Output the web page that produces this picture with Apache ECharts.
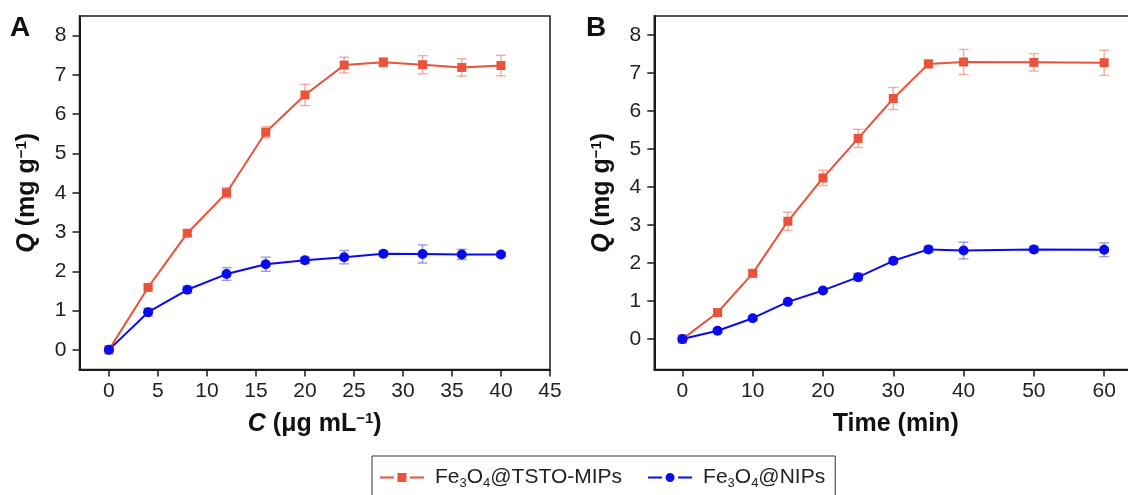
<!DOCTYPE html>
<html>
<head>
<meta charset="utf-8">
<script src="https://cdn.jsdelivr.net/npm/echarts@6/dist/echarts.min.js"></script>
<style>
html,body{margin:0;padding:0;background:#fff;}
#chart{width:1128px;height:495px;}
</style>
</head>
<body>
<div id="chart"></div>
<script>
// ---- Data ----
const seriesNames = ['Fe3O4@TSTO-MIPs', 'Fe3O4@NIPs'];

const xA = [0, 4, 8, 12, 16, 20, 24, 28, 32, 36, 40];
const mipsA = [0, 1.59, 2.97, 4.0, 5.54, 6.49, 7.25, 7.32, 7.26, 7.19, 7.24];
const mipsAErr = [0.03, 0.05, 0.06, 0.13, 0.14, 0.27, 0.2, 0.12, 0.23, 0.22, 0.26];
const nipsA = [0, 0.96, 1.53, 1.93, 2.18, 2.28, 2.36, 2.45, 2.44, 2.43, 2.43];
const nipsAErr = [0.03, 0.1, 0.09, 0.16, 0.18, 0.08, 0.17, 0.06, 0.23, 0.13, 0.06];

const xB = [0, 5, 10, 15, 20, 25, 30, 35, 40, 50, 60];
const mipsB = [0, 0.70, 1.73, 3.10, 4.24, 5.28, 6.33, 7.24, 7.29, 7.28, 7.27];
const mipsBErr = [0.03, 0.05, 0.05, 0.24, 0.2, 0.24, 0.29, 0.1, 0.33, 0.23, 0.33];
const nipsB = [0, 0.22, 0.55, 0.98, 1.28, 1.63, 2.06, 2.36, 2.33, 2.36, 2.35];
const nipsBErr = [0.03, 0.05, 0.05, 0.05, 0.05, 0.1, 0.07, 0.08, 0.22, 0.08, 0.18];

const xTicksA = [0, 5, 10, 15, 20, 25, 30, 35, 40, 45];
const xTicksB = [0, 10, 20, 30, 40, 50, 60];
const yTicks = [0, 1, 2, 3, 4, 5, 6, 7, 8];

// ---- Styles ----
const FONT = "'Liberation Sans', Arial, sans-serif";
const AXIS_COLOR = '#1a1a1a';
const RED = '#e9533a';
const BLUE = '#0a0af0';
const RED_ERR = 'rgba(236,120,100,0.6)';
const BLUE_ERR = 'rgba(90,90,220,0.6)';

const zip = (xs, ys) => xs.map((x, i) => [x, ys[i]]);
const zip3 = (xs, ys, es) => xs.map((x, i) => [x, ys[i], es[i]]);

const nameRich = {
  i: { fontStyle: 'italic', fontWeight: 'bold', fontSize: 25, fontFamily: FONT, color: '#111' },
  b: { fontWeight: 'bold', fontSize: 25, fontFamily: FONT, color: '#111' },
  sup: { fontWeight: 'bold', fontSize: 15, fontFamily: FONT, color: '#111', verticalAlign: 'top', padding: [0, 0, 10, 0] }
};

function xAxisCfg(gridIndex, min, max, ticks, name, gap) {
  return {
    type: 'value', gridIndex, min, max,
    name, nameLocation: 'middle', nameGap: gap,
    nameTextStyle: { rich: nameRich },
    axisLine: { show: true, onZero: false, lineStyle: { color: AXIS_COLOR, width: 2 } },
    axisTick: { show: true, inside: false, length: 7, customValues: ticks, lineStyle: { color: AXIS_COLOR, width: 1.5 } },
    axisLabel: { customValues: ticks, fontSize: 21, color: '#222', fontFamily: FONT, margin: 11 },
    splitLine: { show: false }
  };
}
function yAxisCfg(gridIndex, min, max, gap) {
  return {
    type: 'value', gridIndex, min, max,
    name: '{i|Q}{b| (mg g}{sup|−1}{b|)}', nameLocation: 'middle', nameGap: gap, nameRotate: 90,
    nameTextStyle: { rich: nameRich },
    axisLine: { show: true, onZero: false, lineStyle: { color: AXIS_COLOR, width: 2 } },
    axisTick: { show: true, inside: false, length: 7, customValues: yTicks, lineStyle: { color: AXIS_COLOR, width: 1.5 } },
    axisLabel: { customValues: yTicks, fontSize: 21, color: '#222', fontFamily: FONT, margin: 13 },
    splitLine: { show: false }
  };
}

function errSeries(name, xi, data, color) {
  return {
    type: 'custom', name: name + '-err', xAxisIndex: xi, yAxisIndex: xi, z: 1,
    data,
    renderItem: function (params, api) {
      const x = api.value(0), y = api.value(1), e = api.value(2);
      const top = api.coord([x, y + e]);
      const bot = api.coord([x, y - e]);
      const cw = 5;
      const style = { stroke: color, lineWidth: 1.4 };
      return {
        type: 'group',
        children: [
          { type: 'line', shape: { x1: top[0], y1: top[1], x2: bot[0], y2: bot[1] }, style },
          { type: 'line', shape: { x1: top[0] - cw, y1: top[1], x2: top[0] + cw, y2: top[1] }, style },
          { type: 'line', shape: { x1: bot[0] - cw, y1: bot[1], x2: bot[0] + cw, y2: bot[1] }, style }
        ]
      };
    }
  };
}

function lineSeries(name, xi, data, color, symbol, size) {
  return {
    type: 'line', name, xAxisIndex: xi, yAxisIndex: xi, z: 3,
    data, symbol, symbolSize: size, showSymbol: true,
    lineStyle: { color, width: 2 },
    itemStyle: { color },
    animation: false
  };
}

const legendRich = {
  n: { fontSize: 21, fontFamily: FONT, color: '#222' },
  s: { fontSize: 13, fontFamily: FONT, color: '#222', verticalAlign: 'bottom', padding: [12, 0, 0, 0] }
};

const ICON_RED = 'path://M0,3.5h14v2h-14z M17.5,0h9v9h-9z M30,3.5h14v2h-14z';
const ICON_BLUE = 'path://M0,3.5h14v2h-14z M30,3.5h14v2h-14z M17.5,4.5a4.5,4.5 0 1,0 9,0a4.5,4.5 0 1,0 -9,0z';

const option = {
  animation: false,
  backgroundColor: '#fff',
  grid: [
    { left: 79.5, top: 16, width: 470.5, height: 353.5, show: true, borderColor: AXIS_COLOR, borderWidth: 1.5, backgroundColor: 'transparent', outerBoundsMode: 'none', containLabel: false },
    { left: 654.3, top: 16, width: 482.9, height: 353.5, show: true, borderColor: AXIS_COLOR, borderWidth: 1.5, backgroundColor: 'transparent', outerBoundsMode: 'none', containLabel: false }
  ],
  xAxis: [
    xAxisCfg(0, -3, 45, xTicksA, '{i|C}{b| (μg mL}{sup|−1}{b|)}', 42),
    xAxisCfg(1, -4, 64.7, xTicksB, '{b|Time (min)}', 42)
  ],
  yAxis: [
    yAxisCfg(0, -0.5, 8.5, 40),
    yAxisCfg(1, -0.8, 8.5, 40)
  ],
  legend: {
    data: [
      { name: seriesNames[0], icon: ICON_RED, itemStyle: { color: RED } },
      { name: seriesNames[1], icon: ICON_BLUE, itemStyle: { color: BLUE } }
    ],
    left: 372, top: 456,
    padding: [11, 10, 30, 8],
    borderColor: '#333', borderWidth: 1,
    itemGap: 26, itemWidth: 44, itemHeight: 9,
    formatter: function (n) {
      const rest = n.replace('Fe3O4', '');
      return '{n|Fe}{s|3}{n|O}{s|4}{n|' + rest + '}';
    },
    textStyle: { rich: legendRich, padding: [0, 0, 0, 6] }
  },
  graphic: [
    { type: 'text', left: 10, top: 14, style: { text: 'A', font: "bold 28px 'Liberation Sans', Arial", fill: '#111' } },
    { type: 'text', left: 586, top: 14, style: { text: 'B', font: "bold 28px 'Liberation Sans', Arial", fill: '#111' } }
  ],
  series: [
    errSeries(seriesNames[0], 0, zip3(xA, mipsA, mipsAErr), RED_ERR),
    errSeries(seriesNames[1], 0, zip3(xA, nipsA, nipsAErr), BLUE_ERR),
    errSeries(seriesNames[0], 1, zip3(xB, mipsB, mipsBErr), RED_ERR),
    errSeries(seriesNames[1], 1, zip3(xB, nipsB, nipsBErr), BLUE_ERR),
    lineSeries(seriesNames[0], 0, zip(xA, mipsA), RED, 'rect', 9),
    lineSeries(seriesNames[1], 0, zip(xA, nipsA), BLUE, 'circle', 10),
    lineSeries(seriesNames[0], 1, zip(xB, mipsB), RED, 'rect', 9),
    lineSeries(seriesNames[1], 1, zip(xB, nipsB), BLUE, 'circle', 10)
  ]
};

const chart = echarts.init(document.getElementById('chart'), null, { renderer: 'canvas' });
chart.setOption(option);
</script>
</body>
</html>
